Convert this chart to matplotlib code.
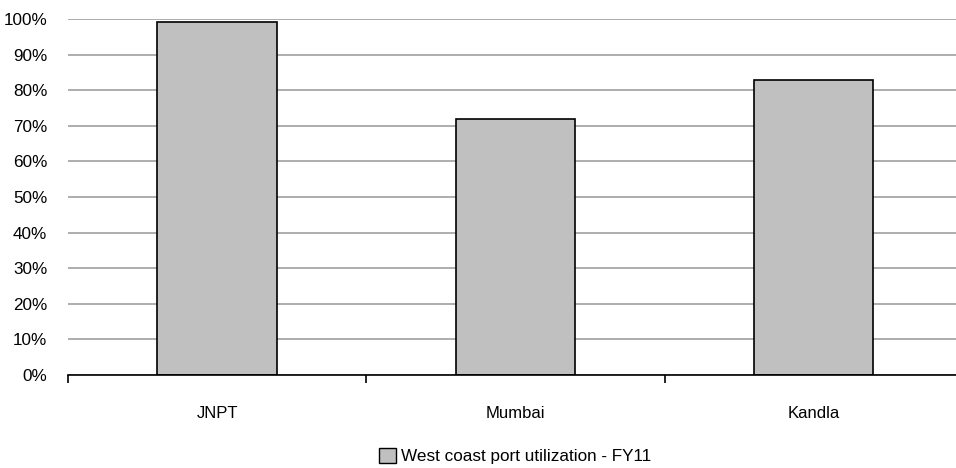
import matplotlib
matplotlib.use("Agg")
import matplotlib.pyplot as plt
from matplotlib.patches import Patch

ports = ["JNPT", "Mumbai", "Kandla"]
utilization = [99.2, 72.0, 83.0]
y_ticks = [0, 10, 20, 30, 40, 50, 60, 70, 80, 90, 100]
series_name = "West coast port utilization - FY11"

plt.rcParams["font.family"] = ["Liberation Sans", "DejaVu Sans"]

W, H = 956, 468
fig = plt.figure(figsize=(W / 100, H / 100), dpi=100)
left, right = 68, 963
top, bottom = 19, 375
ax = fig.add_axes([left / W, 1 - bottom / H, (right - left) / W, (bottom - top) / H])

x = list(range(len(ports)))
ax.bar(x, utilization, width=0.4, color="#c0c0c0", edgecolor="black", linewidth=1.2, zorder=3)

ax.set_xlim(-0.5, len(ports) - 0.5)
ax.set_ylim(0, 100)
ax.set_yticks(y_ticks)
ax.set_yticklabels([f"{v}%" for v in y_ticks], fontsize=12.3)
ax.yaxis.grid(True, color="#a0a0a0", linewidth=1.2, zorder=0)
ax.tick_params(axis="y", length=0, pad=15)

ax.set_xticks([i - 0.5 for i in range(len(ports) + 1)])
ax.set_xticklabels([])
ax.set_xticks(x, minor=True)
ax.set_xticklabels(ports, minor=True, fontsize=12)
ax.tick_params(axis="x", which="major", length=6, width=1.2, direction="out", color="black")
ax.tick_params(axis="x", which="minor", length=0, pad=22)

for side in ["top", "right", "left"]:
    ax.spines[side].set_visible(False)
ax.spines["bottom"].set_linewidth(1.2)
ax.spines["bottom"].set_zorder(4)

handle = Patch(facecolor="#c0c0c0", edgecolor="black", linewidth=1.0)
fig.legend([handle], [series_name], loc="center", bbox_to_anchor=(515 / W, 1 - 456 / H),
           frameon=False, fontsize=12.3, handlelength=1.0, handleheight=1.0, handletextpad=0.3)

fig.savefig("out.png", dpi=100)
